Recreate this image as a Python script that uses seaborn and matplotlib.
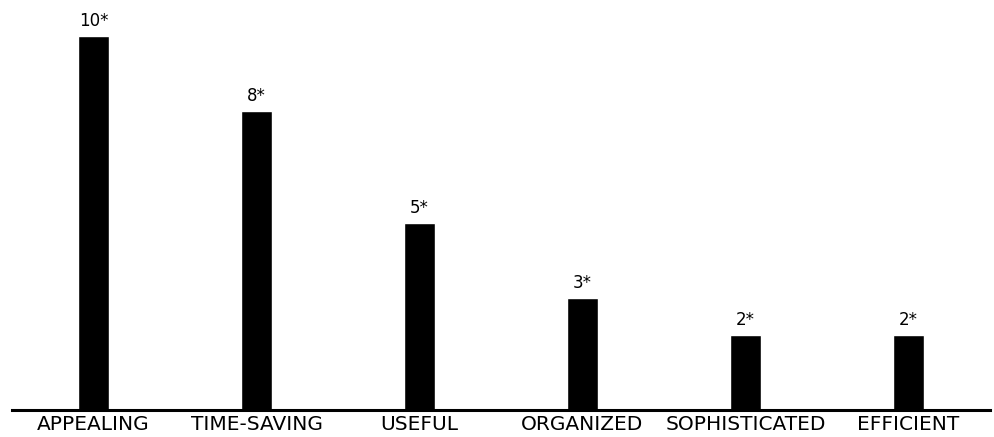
import matplotlib
matplotlib.use("Agg")
import matplotlib.pyplot as plt
import seaborn as sns
import pandas as pd

words = ["APPEALING", "TIME-SAVING", "USEFUL", "ORGANIZED", "SOPHISTICATED", "EFFICIENT"]
counts = [10, 8, 5, 3, 2, 2]
bar_labels = ["10*", "8*", "5*", "3*", "2*", "2*"]

df = pd.DataFrame({"word": words, "count": counts})

sns.set_style("white")
plt.rcParams['font.family'] = ['DejaVu Sans']
plt.rcParams['text.color'] = 'black'
plt.rcParams['xtick.color'] = 'black'

fig = plt.figure(figsize=(9.95, 4.37), dpi=100)
ax = fig.add_axes([0.012, 0.062, 0.983, 0.938])
sns.barplot(data=df, x="word", y="count", color="black", width=0.19,
            saturation=1, ax=ax)

for i, lab in enumerate(bar_labels):
    ax.text(i, counts[i] + 0.15, lab, ha="center", va="bottom",
            fontsize=12, color="black")

ax.set_xlim(-0.5, 5.5)
ax.set_ylim(0, 10.96)
ax.set_xlabel("")
ax.set_ylabel("")
ax.set_yticks([])
ax.tick_params(axis="x", length=0, pad=4, labelsize=14.5, labelcolor="black")
for s in ["top", "right", "left"]:
    ax.spines[s].set_visible(False)
ax.spines["bottom"].set_linewidth(2.2)
ax.spines["bottom"].set_color("black")

fig.savefig("out.png", dpi=100)
